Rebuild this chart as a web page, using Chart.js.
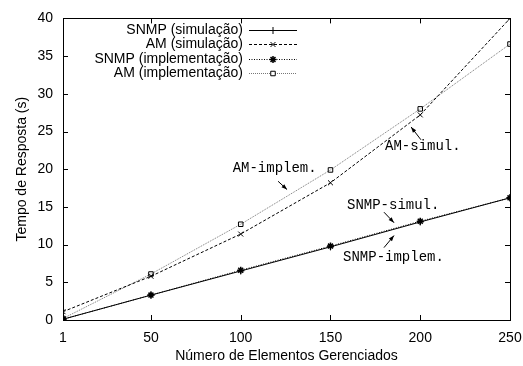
<!DOCTYPE html>
<html>
<head>
<meta charset="utf-8">
<script src="https://cdn.jsdelivr.net/npm/chart.js@4.4.0/dist/chart.umd.min.js"></script>
<style>
  body { margin: 0; background: #fff; }
  #wrap { width: 523px; height: 366px; }
</style>
</head>
<body>
<div id="wrap"><canvas id="respChart" width="523" height="366"></canvas></div>
<script>
// numero de elementos gerenciados
const elements = [1, 50, 100, 150, 200, 250];
// tempo de resposta (s)
const snmpSim = [0.1, 3.3, 6.5, 9.7, 13.0, 16.2];
const amSim = [1.1, 5.8, 11.4, 18.2, 27.2, 40.0];
const snmpImpl = [0.1, 3.3, 6.6, 9.8, 13.1, 16.2];
const amImpl = [0.2, 6.1, 12.7, 19.9, 28.0, 36.6];

const xTicks = [1, 50, 100, 150, 200, 250];
const yTicks = [0, 5, 10, 15, 20, 25, 30, 35, 40];

const seriesNames = ['SNMP (simulação)', 'AM (simulação)', 'SNMP (implementação)', 'AM (implementação)'];

// rotulos com setas, em coordenadas de dados
const notes = [
    { text: 'AM-implem.', at: [95.5, 20.1], from: [120.8, 18.4], to: [125.8, 17.3] },
    { text: 'AM-simul.', at: [180.4, 23.0], from: [200.4, 23.9], to: [194.9, 25.6] },
    { text: 'SNMP-simul.', at: [159.2, 15.2], from: [179.8, 14.3], to: [185.4, 12.9] },
    { text: 'SNMP-implem.', at: [157.0, 8.3], from: [179.8, 9.6], to: [185.4, 11.2] },
];

const sansFont = '"Liberation Sans", Arial, sans-serif';
const monoFont = '"Liberation Mono", "Courier New", monospace';

function toPoints(ys) {
    return elements.map((x, i) => ({ x: x, y: ys[i] }));
}

function makeDataset(label, ys, style) {
    return Object.assign({
        label: label,
        data: toPoints(ys),
        borderColor: '#000',
        backgroundColor: '#000',
        pointBorderColor: '#000',
        pointBackgroundColor: 'rgba(0,0,0,0)',
        borderWidth: 1,
        pointBorderWidth: 1,
        pointRadius: 3.5,
        pointHoverRadius: 3.5,
        tension: 0,
        fill: false,
    }, style);
}

const datasets = [
    makeDataset(seriesNames[0], snmpSim, { pointStyle: 'cross' }),
    makeDataset(seriesNames[1], amSim, { pointStyle: 'crossRot', borderDash: [3, 2] }),
    makeDataset(seriesNames[2], snmpImpl, { pointStyle: 'star', borderDash: [1, 1.5], pointBorderWidth: 1.5 }),
    makeDataset(seriesNames[3], amImpl, {
        pointStyle: 'rect', borderDash: [1, 1], borderColor: '#777', pointRadius: 3.2,
    }),
];

function drawArrow(ctx, x1, y1, x2, y2) {
    const ang = Math.atan2(y2 - y1, x2 - x1);
    const len = 6;
    ctx.beginPath();
    ctx.moveTo(x1, y1);
    ctx.lineTo(x2, y2);
    ctx.stroke();
    ctx.beginPath();
    ctx.moveTo(x2, y2);
    ctx.lineTo(x2 - len * Math.cos(ang - 0.35), y2 - len * Math.sin(ang - 0.35));
    ctx.lineTo(x2 - len * Math.cos(ang + 0.35), y2 - len * Math.sin(ang + 0.35));
    ctx.closePath();
    ctx.fill();
}

const framePlugin = {
    id: 'frame',
    afterDatasetsDraw(chart) {
        const ctx = chart.ctx;
        const a = chart.chartArea;
        const xs = chart.scales.x;
        const ys = chart.scales.y;
        const tick = 5;
        ctx.save();
        ctx.strokeStyle = '#000';
        ctx.lineWidth = 1;
        ctx.setLineDash([]);
        // caixa
        ctx.strokeRect(Math.round(a.left) + 0.5, Math.round(a.top) + 0.5,
            Math.round(a.right - a.left), Math.round(a.bottom - a.top));
        // marcas para dentro, espelhadas
        ctx.beginPath();
        xTicks.forEach(v => {
            const px = Math.round(xs.getPixelForValue(v)) + 0.5;
            ctx.moveTo(px, a.bottom); ctx.lineTo(px, a.bottom - tick);
            ctx.moveTo(px, a.top); ctx.lineTo(px, a.top + tick);
        });
        yTicks.forEach(v => {
            const py = Math.round(ys.getPixelForValue(v)) + 0.5;
            ctx.moveTo(a.left, py); ctx.lineTo(a.left + tick, py);
            ctx.moveTo(a.right, py); ctx.lineTo(a.right - tick, py);
        });
        ctx.stroke();

        // anotacoes
        ctx.fillStyle = '#000';
        ctx.font = '14px ' + monoFont;
        ctx.textAlign = 'left';
        ctx.textBaseline = 'middle';
        notes.forEach(n => {
            ctx.fillText(n.text, xs.getPixelForValue(n.at[0]), ys.getPixelForValue(n.at[1]));
            drawArrow(ctx,
                xs.getPixelForValue(n.from[0]), ys.getPixelForValue(n.from[1]),
                xs.getPixelForValue(n.to[0]), ys.getPixelForValue(n.to[1]));
        });

        // legenda estilo gnuplot
        const textRight = a.left + 180;
        const sampleLeft = a.left + 186;
        const sampleRight = a.left + 234;
        ctx.font = '14px ' + sansFont;
        chart.data.datasets.forEach((ds, i) => {
            const y = a.top + 11.5 + i * 14.5;
            const ly = Math.round(y) + 0.5;
            ctx.textAlign = 'right';
            ctx.fillStyle = '#000';
            ctx.fillText(ds.label, textRight, y);
            ctx.strokeStyle = ds.borderColor;
            ctx.setLineDash(ds.borderDash || []);
            ctx.beginPath();
            ctx.moveTo(sampleLeft, ly);
            ctx.lineTo(sampleRight, ly);
            ctx.stroke();
            ctx.setLineDash([]);
            ctx.strokeStyle = '#000';
            ctx.fillStyle = '#fff';
            ctx.lineWidth = ds.pointBorderWidth;
            Chart.helpers.drawPoint(ctx, {
                pointStyle: ds.pointStyle,
                radius: ds.pointRadius,
                rotation: 0,
                borderWidth: ds.pointBorderWidth,
            }, (sampleLeft + sampleRight) / 2, ly);
            ctx.lineWidth = 1;
        });
        ctx.restore();
    },
};

const ctx = document.getElementById('respChart').getContext('2d');
const respChart = new Chart(ctx, {
    type: 'line',
    data: { datasets: datasets },
    options: {
        responsive: false,
        animation: false,
        events: [],
        layout: { padding: { top: 12, right: 13, left: 0, bottom: 0 } },
        plugins: {
            legend: { display: false },
            tooltip: { enabled: false },
        },
        scales: {
            x: {
                type: 'linear',
                min: 1,
                max: 250,
                afterBuildTicks: axis => { axis.ticks = xTicks.map(v => ({ value: v })); },
                afterFit: axis => { axis.height = 46; },
                // marcas invisiveis: so afastam os rotulos do eixo
                grid: { display: true, drawOnChartArea: false, drawTicks: true, tickLength: 9, tickColor: 'rgba(0,0,0,0)' },
                border: { display: false },
                ticks: {
                    color: '#000',
                    font: { family: sansFont, size: 14 },
                    padding: 1,
                    maxRotation: 0,
                },
                title: {
                    display: true,
                    text: 'Número de Elementos Gerenciados',
                    color: '#000',
                    font: { family: sansFont, size: 14 },
                    padding: { top: 0, bottom: 1 },
                },
            },
            y: {
                min: 0,
                max: 40,
                afterBuildTicks: axis => { axis.ticks = yTicks.map(v => ({ value: v })); },
                afterFit: axis => { axis.width = 63; },
                grid: { display: false, drawTicks: false },
                border: { display: false },
                ticks: {
                    color: '#000',
                    font: { family: sansFont, size: 14 },
                    padding: 10,
                },
                title: {
                    display: true,
                    text: 'Tempo de Resposta (s)',
                    color: '#000',
                    font: { family: sansFont, size: 14 },
                    padding: { top: 14, bottom: 0 },
                },
            },
        },
    },
    plugins: [framePlugin],
});
</script>
</body>
</html>
